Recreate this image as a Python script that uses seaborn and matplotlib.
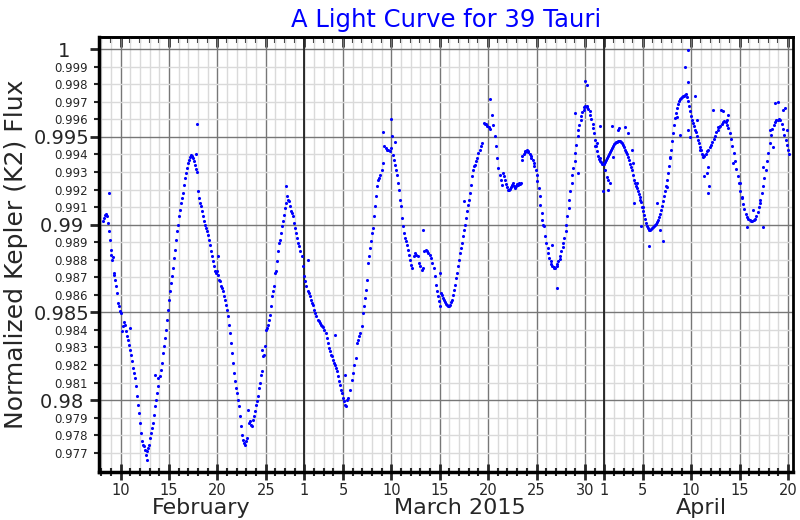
import matplotlib
matplotlib.use("Agg")
import matplotlib.pyplot as plt
import seaborn as sns
import pandas as pd

# day number counted from Feb 0 (Mar 1 = 29, Apr 1 = 60); flux
feb_days = [8.21, 8.31, 8.41, 8.52, 8.62, 8.72, 8.83, 8.90, 8.97, 9.03, 9.14, 9.21, 9.28, 9.34, 9.45,
            9.55, 9.66, 9.76, 9.83, 9.90, 10.0, 10.10, 10.24, 10.38, 10.48, 10.59, 10.69, 10.79, 10.90,
            11.0, 11.10, 11.21, 11.31, 11.41, 11.52, 11.62, 11.72, 11.83, 11.93, 12.03, 12.14, 12.24,
            12.34, 12.45, 12.55, 12.66, 12.76, 12.86, 12.97, 13.07, 13.17, 13.28, 13.38, 13.48, 13.59,
            13.69, 13.79, 13.90, 14.03, 14.14, 14.24, 14.34, 14.45, 14.55, 14.66, 14.76, 14.86, 14.97,
            15.07, 15.17, 15.28, 15.38, 15.48, 15.59, 15.69, 15.79, 15.90, 16.0, 16.10, 16.21, 16.31,
            16.41, 16.52, 16.62, 16.72, 16.83, 16.93, 17.03, 17.14, 17.24, 17.34, 17.45, 17.55, 17.66,
            17.76, 17.86, 18.03, 18.14, 18.24, 18.34, 18.45, 18.55, 18.66, 18.76, 18.86, 18.97, 19.07,
            19.17, 19.28, 19.38, 19.48, 19.59, 19.69, 19.79, 19.90, 20.0, 20.10, 20.21, 20.31, 20.41,
            20.52, 20.62, 20.72, 20.83, 20.93, 21.03, 21.14, 21.24, 21.34, 21.45, 21.55, 21.66, 21.76,
            21.86, 21.97, 22.07, 22.17, 22.28, 22.38, 22.48, 22.59, 22.69, 22.79, 22.90, 23.0, 23.10,
            23.28, 23.38, 23.48, 23.59, 23.69, 23.79, 23.90, 24.0, 24.10, 24.17, 24.28, 24.38, 24.48,
            24.59, 24.69, 24.79, 24.90, 25.0, 25.10, 25.21, 25.31, 25.41, 25.52, 25.62, 25.72, 25.83,
            25.93, 26.03, 26.14, 26.24, 26.34, 26.45, 26.55, 26.66, 26.76, 26.86, 26.97, 27.07, 27.17,
            27.28, 27.38, 27.48, 27.59, 27.69, 27.79, 27.90, 28.0, 28.10, 28.21, 28.31, 28.41, 28.55,
            28.72, 28.86]
feb_flux = [0.99019, 0.99038, 0.99057, 0.99063, 0.99051, 0.9901, 0.98962, 0.98914, 0.98857, 0.98829,
            0.988, 0.98816, 0.98724, 0.98715, 0.98686, 0.98648, 0.9861, 0.98553, 0.98534, 0.98506,
            0.98496, 0.98392, 0.9842, 0.98443, 0.9843, 0.98392, 0.98363, 0.98344, 0.98316, 0.98287,
            0.98259, 0.98221, 0.98183, 0.98154, 0.98126, 0.98078, 0.98021, 0.97973, 0.97926, 0.97869,
            0.97812, 0.97764, 0.97745, 0.97736, 0.97717, 0.97688, 0.97707, 0.97726, 0.97745, 0.97783,
            0.97812, 0.9784, 0.97869, 0.97916, 0.97964, 0.98002, 0.9804, 0.98078, 0.98135, 0.98173,
            0.98211, 0.98268, 0.98306, 0.98354, 0.98401, 0.98458, 0.98515, 0.98572, 0.9862, 0.98667,
            0.98705, 0.98753, 0.9881, 0.98857, 0.98914, 0.98962, 0.99, 0.99048, 0.99086, 0.99124,
            0.99152, 0.99181, 0.99228, 0.99266, 0.99295, 0.99323, 0.99352, 0.99367, 0.99386, 0.99399,
            0.99394, 0.9938, 0.99361, 0.99342, 0.99317, 0.99298, 0.9919, 0.99152, 0.99124, 0.99105,
            0.99076, 0.99048, 0.99019, 0.99, 0.98981, 0.98962, 0.98943, 0.98914, 0.98886, 0.98848,
            0.98819, 0.98791, 0.98762, 0.98734, 0.98724, 0.98734, 0.98715, 0.98686, 0.98677, 0.98648,
            0.98639, 0.9862, 0.98591, 0.98572, 0.98544, 0.98515, 0.98477, 0.9843, 0.98382, 0.98325,
            0.98268, 0.98211, 0.98154, 0.98107, 0.98069, 0.9804, 0.98002, 0.97964, 0.97907, 0.9785,
            0.97802, 0.97774, 0.97755, 0.97745, 0.97764, 0.97783, 0.97869, 0.97878, 0.97859, 0.9785,
            0.97888, 0.97907, 0.97935, 0.97973, 0.97992, 0.98021, 0.98069, 0.98097, 0.98145, 0.98164,
            0.98249, 0.98259, 0.98306, 0.98401, 0.98411, 0.9843, 0.98458, 0.98487, 0.98534, 0.98591,
            0.9862, 0.98648, 0.98724, 0.98734, 0.98791, 0.98848, 0.98895, 0.98914, 0.98952, 0.9899,
            0.99019, 0.99057, 0.99095, 0.99124, 0.99162, 0.99143, 0.99133, 0.99105, 0.99076, 0.99067,
            0.99048, 0.9901, 0.98981, 0.98952, 0.98924, 0.98895, 0.98876, 0.98848, 0.98819, 0.98762]

mar_days = [29.0, 29.10, 29.21, 29.34, 29.45, 29.55, 29.69, 29.79, 29.90, 30.03, 30.14, 30.24, 30.38,
            30.48, 30.59, 30.72, 30.83, 30.97, 31.07, 31.21, 31.31, 31.41, 31.52, 31.62, 31.72, 31.83,
            31.97, 32.07, 32.17, 32.28, 32.38, 32.48, 32.59, 32.69, 32.79, 32.90, 33.0, 33.10, 33.21,
            33.38, 33.55, 33.72, 33.90, 34.03, 34.17, 34.31, 34.41, 34.52, 34.66, 34.79, 34.93, 35.03,
            35.14, 35.24, 35.34, 35.45, 35.55, 35.66, 35.76, 35.86, 35.97, 36.07, 36.17, 36.28, 36.38,
            36.48, 36.59, 36.72, 36.86, 37.0, 37.14, 37.28, 37.41, 37.55, 37.69, 37.83, 37.97, 38.07,
            38.17, 38.28, 38.38, 38.48, 38.59, 38.69, 38.79, 38.90, 39.0, 39.10, 39.21, 39.31, 39.41,
            39.52, 39.62, 39.72, 39.83, 39.93, 40.03, 40.17, 40.31, 40.45, 40.59, 40.72, 40.86, 41.0,
            41.14, 41.28, 41.41, 41.55, 41.69, 41.83, 41.97, 42.10, 42.24, 42.38, 42.48, 42.59, 42.69,
            42.79, 42.90, 43.0, 43.10, 43.21, 43.31, 43.41, 43.52, 43.62, 43.72, 43.83, 43.93, 44.03,
            44.14, 44.24, 44.34, 44.45, 44.55, 44.66, 44.76, 44.86, 44.97, 45.07, 45.17, 45.28, 45.38,
            45.48, 45.59, 45.69, 45.79, 45.90, 46.0, 46.10, 46.21, 46.31, 46.41, 46.52, 46.62, 46.72,
            46.86, 47.0, 47.14, 47.28, 47.41, 47.52, 47.66, 47.79, 47.93, 48.07, 48.17, 48.38, 48.52,
            48.66, 48.79, 48.93, 49.07, 49.21, 49.34, 49.48, 49.56, 49.66, 49.76, 49.87, 49.97, 50.07,
            50.18, 50.28, 50.38, 50.49, 50.59, 50.69, 50.80, 50.90, 51.0, 51.11, 51.21, 51.31, 51.38,
            51.45, 51.55, 51.66, 51.76, 51.86, 51.97, 52.07, 52.17, 52.28, 52.38, 52.48, 52.59, 52.69,
            52.79, 52.90, 53.0, 53.10, 53.21, 53.31, 53.41, 53.52, 53.62, 53.72, 53.79, 53.93, 54.03,
            54.14, 54.24, 54.34, 54.45, 54.55, 54.65, 54.76, 54.86, 54.96, 55.07, 55.17, 55.27, 55.38,
            55.48, 55.58, 55.69, 55.79, 55.89, 56.0, 56.10, 56.20, 56.31, 56.41, 56.51, 56.62, 56.72,
            56.82, 56.93, 57.03, 57.13, 57.24, 57.34, 57.44, 57.55, 57.65, 57.75, 57.86, 57.96, 58.06,
            58.17, 58.27, 58.37, 58.48, 58.58, 58.68, 58.79, 58.89, 58.99, 59.10, 59.20, 59.30, 59.41,
            59.51, 59.61, 59.72, 59.82, 59.92]
mar_flux = [0.98705, 0.98677, 0.98648, 0.9862, 0.9861, 0.98591, 0.98572, 0.98553, 0.98544, 0.98515,
            0.98496, 0.98477, 0.98458, 0.98449, 0.98439, 0.9843, 0.98424, 0.98416, 0.98401, 0.98382,
            0.98354, 0.98325, 0.98297, 0.98278, 0.98259, 0.98249, 0.9823, 0.98211, 0.98202, 0.98183,
            0.98164, 0.98135, 0.98107, 0.98088, 0.98059, 0.9804, 0.98012, 0.97993, 0.97974, 0.98002,
            0.98012, 0.98059, 0.98116, 0.98154, 0.98202, 0.9824, 0.98325, 0.98344, 0.98363, 0.98382,
            0.9842, 0.98496, 0.98534, 0.98582, 0.98629, 0.98686, 0.98781, 0.98819, 0.98867, 0.98905,
            0.98953, 0.98981, 0.99048, 0.99105, 0.99162, 0.99219, 0.99257, 0.99266, 0.99285, 0.99314,
            0.99352, 0.99447, 0.99437, 0.99428, 0.99428, 0.99418, 0.99437, 0.99504, 0.99399, 0.99371,
            0.99342, 0.99314, 0.99285, 0.99238, 0.992, 0.99143, 0.99105, 0.99038, 0.98991, 0.98953,
            0.98924, 0.98905, 0.98886, 0.98857, 0.98829, 0.988, 0.98772, 0.98753, 0.98819, 0.98838,
            0.98829, 0.98819, 0.98781, 0.98762, 0.98743, 0.98753, 0.98848, 0.98857, 0.98848, 0.98838,
            0.98829, 0.9881, 0.98781, 0.98753, 0.98705, 0.98658, 0.9862, 0.98591, 0.98563, 0.98534,
            0.9861, 0.98601, 0.98582, 0.98572, 0.98557, 0.98548, 0.98542, 0.98538, 0.98538, 0.98544,
            0.98557, 0.98572, 0.98601, 0.98629, 0.98658, 0.98696, 0.98724, 0.98762, 0.988, 0.98838,
            0.98867, 0.98895, 0.98934, 0.98972, 0.99, 0.99038, 0.99076, 0.99114, 0.99143, 0.99181,
            0.99228, 0.99276, 0.99314, 0.99333, 0.99342, 0.99361, 0.9938, 0.99409, 0.99428, 0.99447,
            0.99466, 0.9958, 0.99576, 0.99572, 0.99565, 0.99557, 0.99546, 0.99627, 0.9957, 0.99504,
            0.99447, 0.9938, 0.99323, 0.99285, 0.99257, 0.99228, 0.99295, 0.99276, 0.99253, 0.99234,
            0.99215, 0.992, 0.99196, 0.99203, 0.99215, 0.99226, 0.99238, 0.99222, 0.99209, 0.99219,
            0.99234, 0.99228, 0.99238, 0.99234, 0.99238, 0.99371, 0.9939, 0.99405, 0.99416, 0.99422,
            0.99424, 0.9942, 0.99414, 0.99405, 0.99394, 0.9938, 0.99367, 0.99352, 0.99333, 0.99314,
            0.99285, 0.99247, 0.99209, 0.99162, 0.99114, 0.99067, 0.99029, 0.99, 0.98991, 0.98934,
            0.98895, 0.98867, 0.98838, 0.9881, 0.98791, 0.98778, 0.98766, 0.98759, 0.98753, 0.98755,
            0.98762, 0.98778, 0.98791, 0.98804, 0.98819, 0.98848, 0.98873, 0.98895, 0.98924, 0.98962,
            0.99, 0.99048, 0.99095, 0.99143, 0.9919, 0.99238, 0.99285, 0.99323, 0.99361, 0.99409,
            0.99456, 0.99504, 0.99542, 0.9957, 0.99599, 0.99622, 0.99641, 0.99656, 0.99671, 0.99679,
            0.99675, 0.99669, 0.9966, 0.99646, 0.99627, 0.99603, 0.99576, 0.99551, 0.99523, 0.99485,
            0.99451, 0.99418, 0.99394, 0.99375, 0.99363, 0.99356, 0.99348, 0.99344]

apr_days = [60.03, 60.13, 60.23, 60.34, 60.44, 60.54, 60.65, 60.75, 60.85, 60.96, 61.06, 61.16, 61.27,
            61.37, 61.47, 61.58, 61.68, 61.78, 61.89, 61.99, 62.09, 62.20, 62.30, 62.40, 62.51, 62.61,
            62.71, 62.82, 62.92, 63.02, 63.13, 63.23, 63.33, 63.44, 63.54, 63.64, 63.75, 63.85, 63.95,
            64.06, 64.16, 64.26, 64.37, 64.47, 64.57, 64.68, 64.78, 64.88, 64.99, 65.09, 65.19, 65.30,
            65.40, 65.50, 65.61, 65.71, 65.81, 65.92, 66.02, 66.12, 66.23, 66.33, 66.43, 66.54, 66.64,
            66.74, 66.85, 66.95, 67.05, 67.16, 67.26, 67.36, 67.47, 67.57, 67.67, 67.78, 67.88, 67.98,
            68.09, 68.19, 68.29, 68.40, 68.50, 68.60, 68.71, 68.81, 68.91, 69.02, 69.12, 69.22, 69.33,
            69.43, 69.53, 69.64, 69.74, 69.84, 69.95, 70.05, 70.15, 70.21, 70.35, 70.49, 70.62, 70.76,
            70.90, 71.04, 71.18, 71.31, 71.45, 71.59, 71.73, 71.86, 72.0, 72.14, 72.28, 72.42, 72.55,
            72.69, 72.83, 72.97, 73.10, 73.24, 73.38, 73.52, 73.66, 73.79, 73.93, 74.07, 74.21, 74.34,
            74.48, 74.62, 74.76, 74.90, 75.03, 75.17, 75.31, 75.45, 75.58, 75.72, 75.86, 76.0, 76.14,
            76.27, 76.41, 76.55, 76.69, 76.82, 76.96, 77.10, 77.24, 77.38, 77.51, 77.65, 77.79, 77.93,
            78.06, 78.20, 78.34, 78.48, 78.62, 78.75, 78.89, 79.03, 79.13]
apr_flux = [0.99348, 0.99359, 0.99371, 0.99382, 0.99394, 0.99405, 0.99416, 0.99428, 0.99439, 0.99451,
            0.99458, 0.99466, 0.9947, 0.99473, 0.99477, 0.99479, 0.99477, 0.99471, 0.99466, 0.99456,
            0.99443, 0.99428, 0.99416, 0.99403, 0.99386, 0.99367, 0.99348, 0.99329, 0.9931, 0.99285,
            0.99257, 0.99238, 0.99222, 0.99209, 0.99194, 0.99175, 0.99156, 0.99127, 0.99101, 0.99076,
            0.99055, 0.99032, 0.9901, 0.98994, 0.98981, 0.98968, 0.98972, 0.98975, 0.98981, 0.98985,
            0.98991, 0.98996, 0.99002, 0.99013, 0.99029, 0.99044, 0.99063, 0.99086, 0.99108, 0.99133,
            0.99162, 0.9919, 0.99222, 0.99257, 0.99295, 0.99337, 0.9938, 0.99428, 0.99475, 0.99523,
            0.9957, 0.99608, 0.99637, 0.99665, 0.9969, 0.99705, 0.99717, 0.99724, 0.9973, 0.99734,
            0.99736, 0.9974, 0.99743, 0.99728, 0.99703, 0.99675, 0.99646, 0.99622, 0.99599, 0.9958,
            0.99561, 0.99542, 0.99527, 0.99508, 0.99485, 0.99466, 0.99443, 0.99424, 0.99405, 0.99399,
            0.99394, 0.99405, 0.99418, 0.99428, 0.99443, 0.99456, 0.99473, 0.99489, 0.99508, 0.99527,
            0.99542, 0.99555, 0.99565, 0.99576, 0.99587, 0.99591, 0.99584, 0.9957, 0.99551, 0.99523,
            0.99489, 0.99451, 0.99409, 0.99361, 0.99318, 0.99276, 0.99238, 0.9919, 0.99152, 0.9912,
            0.99089, 0.99063, 0.99044, 0.99032, 0.99025, 0.99021, 0.99023, 0.99025, 0.99032, 0.99048,
            0.9907, 0.99101, 0.99139, 0.99181, 0.99222, 0.99266, 0.9931, 0.99361, 0.99409, 0.99466,
            0.99513, 0.99546, 0.9957, 0.99587, 0.99595, 0.99599, 0.99601, 0.99595, 0.99576, 0.99546,
            0.99513, 0.99485, 0.99456, 0.99428, 0.99405]

# isolated points scattered away from the main curve
stray_days = [8.79, 10.97, 12.75, 13.55, 13.9, 17.79, 17.91, 20.03, 23.2, 24.6, 27.1, 29.34, 32.17,
              33.2, 33.3, 37.17, 38.0, 38.34, 41.31, 43.05, 45.52, 48.2, 54.6, 55.1, 57.03, 57.3, 58.0,
              58.2, 59.03, 59.54, 59.9, 60.4, 60.42, 60.8, 61.5, 62.14, 62.5, 63.1, 63.85, 64.6, 66.1,
              67.8, 68.34, 68.67, 68.68, 68.7, 69.36, 70.3, 70.73, 70.8, 71.27, 72.1, 72.3, 72.8, 74.72,
              76.43, 77.64, 78.0, 78.65,
              59.22, 59.56, 60.07, 60.25, 60.59, 60.93, 61.45, 62.83, 63.0, 63.35, 63.69, 64.03, 65.41,
              65.76, 66.45, 66.79, 67.48, 68.86, 69.55, 69.89, 70.23, 70.58, 70.7, 71.78, 72.65, 73.33,
              74.02, 74.2, 75.4, 76.09, 76.43, 77.12, 77.46, 78.5, 78.85]
stray_flux = [0.9918, 0.98411, 0.9766, 0.98145, 0.98125, 0.99405, 0.99574, 0.98819, 0.97945, 0.98287,
              0.99219, 0.988, 0.98373, 0.98145, 0.97964, 0.99527, 0.99603, 0.9947, 0.98968, 0.98724,
              0.99137, 0.99716, 0.98886, 0.98639, 0.99637, 0.99293, 0.99818, 0.99798, 0.99447, 0.99561,
              0.9919, 0.99257, 0.99198, 0.99561, 0.99551, 0.99559, 0.99523, 0.99124, 0.9899, 0.98876,
              0.98905, 0.99513, 0.99897, 0.99542, 0.99996, 0.99815, 0.99736, 0.99276, 0.99181, 0.99219,
              0.99654, 0.99656, 0.99645, 0.99627, 0.98988, 0.98988, 0.99692, 0.99701, 0.99665,
              0.99464, 0.99378, 0.99312, 0.99274, 0.99236, 0.99388, 0.9954, 0.99426, 0.9935, 0.99236,
              0.99141, 0.99103, 0.99122, 0.98969, 0.99217, 0.99388, 0.99616, 0.99502, 0.99597, 0.99426,
              0.99388, 0.99293, 0.99331, 0.99559, 0.99597, 0.9935, 0.99236, 0.9916, 0.99084, 0.99122,
              0.99331, 0.9954, 0.99445, 0.99654, 0.9954]

day_ticks = [10, 15, 20, 25, 29, 33, 38, 43, 48, 53, 58, 60, 64, 69, 74, 79]
day_labels = ["10", "15", "20", "25", "1", "5", "10", "15", "20", "25", "30", "1", "5", "10", "15", "20"]
month_starts = [29, 60]
month_names = ["February", "March 2015", "April"]
month_centers = [18.3, 45.1, 70.0]
flux_major = [0.98, 0.985, 0.99, 0.995, 1.0]
flux_major_labels = ["0.98 ", "0.985", "0.99 ", "0.995", "1   "]
flux_minor = [0.977, 0.978, 0.979, 0.981, 0.982, 0.983, 0.984, 0.986, 0.987, 0.988, 0.989,
              0.991, 0.992, 0.993, 0.994, 0.996, 0.997, 0.998, 0.999]

df = pd.DataFrame({
    "day": feb_days + mar_days + apr_days + stray_days,
    "flux": feb_flux + mar_flux + apr_flux + stray_flux,
})

sns.set_style("ticks")
plt.rcParams["font.family"] = ["DejaVu Sans"]

fig, ax = plt.subplots(figsize=(8, 5.2), dpi=100)
fig.subplots_adjust(left=0.124, right=0.991, top=0.929, bottom=0.092)

ax.set_axisbelow(True)
sns.scatterplot(data=df, x="day", y="flux", color="blue", s=5, linewidth=0, ax=ax, zorder=3)

ax.set_xlim(7.785, 79.5)
ax.set_ylim(0.97589, 1.0007)

# x ticks: day numbers, months written underneath
ax.set_xticks(day_ticks)
ax.set_xticklabels(day_labels, fontsize=10.5)
ax.set_xticks(range(8, 80), minor=True)
ax.tick_params(axis="x", which="both", direction="inout", top=False, bottom=True, pad=2)
ax.tick_params(axis="x", which="major", length=11.5, width=2)
ax.tick_params(axis="x", which="minor", length=6, width=1.5)
for name, pos in zip(month_names, month_centers):
    ax.text(pos, -0.0966, name, transform=ax.get_xaxis_transform(),
            ha="center", va="baseline", fontsize=16)

# top edge carries inward ticks only
top = ax.secondary_xaxis("top")
top.set_xticks(day_ticks)
top.set_xticks(range(8, 80), minor=True)
top.tick_params(which="both", direction="in", labeltop=False)
top.tick_params(which="major", length=7.5, width=2)
top.tick_params(which="minor", length=4.5, width=1.5)
top.spines["top"].set_linewidth(2)

# y ticks
ax.set_yticks(flux_major)
ax.set_yticklabels(flux_major_labels, fontsize=14)
ax.set_yticks(flux_minor, minor=True)
ax.set_yticklabels([f"{v:.3f}" for v in flux_minor], minor=True, fontsize=8.5)
ax.tick_params(axis="y", which="both", direction="out", right=False)
ax.tick_params(axis="y", which="major", length=6.5, width=2, pad=0.5)
ax.tick_params(axis="y", which="minor", length=3.6, width=1.5, pad=4.8)

ax.grid(which="minor", color="#dadada", linewidth=1.0)
ax.grid(which="major", color="#777777", linewidth=1.0)
for m in month_starts:
    ax.axvline(m, color="#222222", linewidth=1.3, zorder=1)

for side, w in [("left", 2.5), ("bottom", 2.5), ("top", 2), ("right", 2)]:
    ax.spines[side].set_visible(True)
    ax.spines[side].set_linewidth(w)
    ax.spines[side].set_color("black")

ax.set_xlabel("")
ax.set_ylabel("Normalized Kepler (K2) Flux", fontsize=18)
ax.yaxis.set_label_coords(-0.102, 0.5)
ax.set_title("A Light Curve for 39 Tauri", color="blue", fontsize=17.5, pad=7)

plt.savefig("out.png", dpi=100)
